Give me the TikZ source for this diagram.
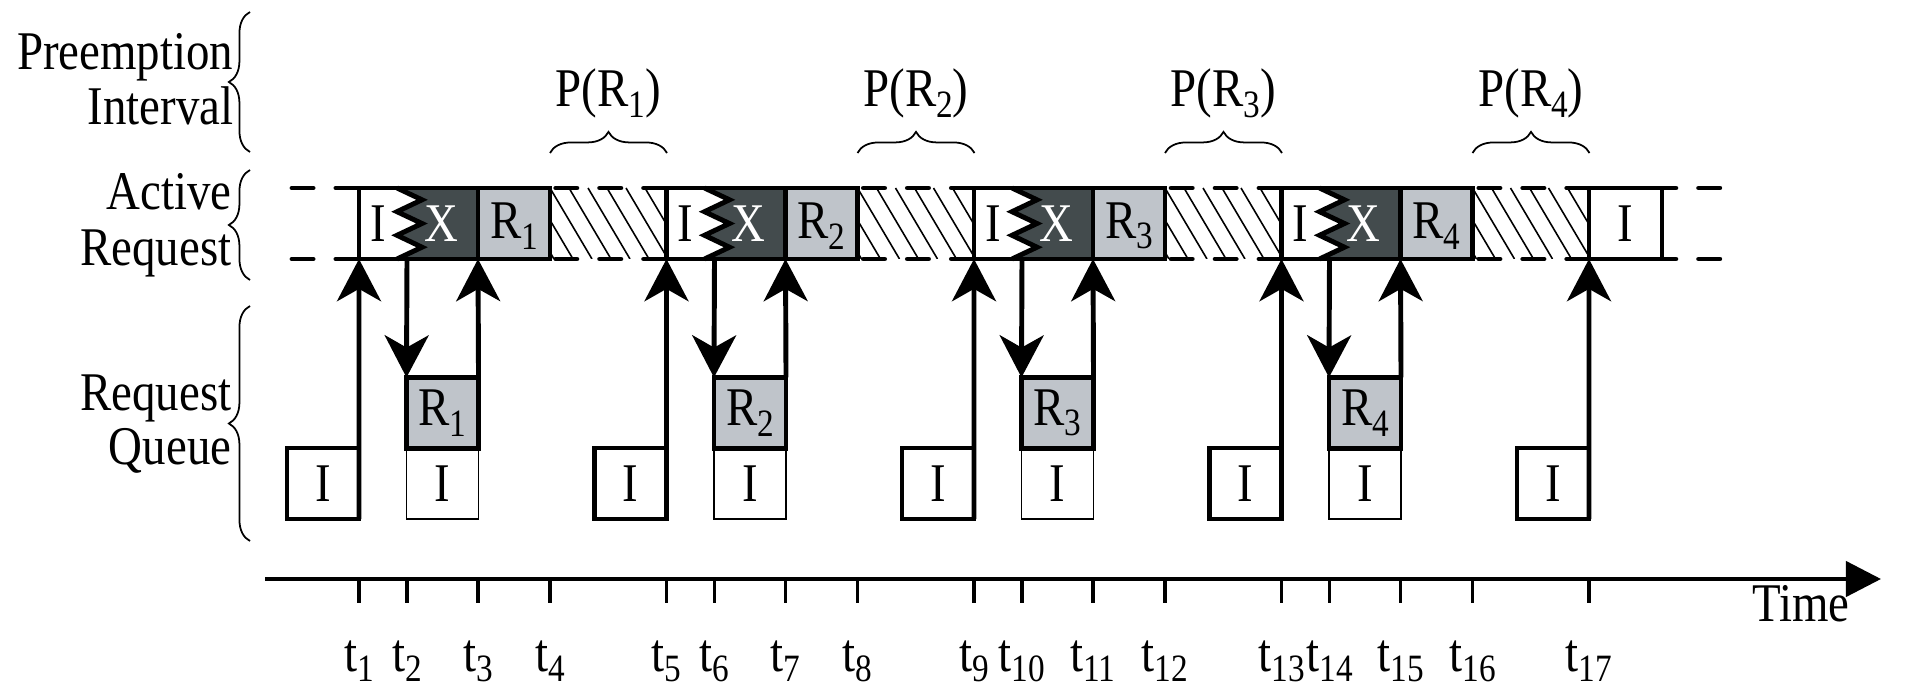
\documentclass[tikz,border=0pt]{standalone}
\usepackage{fontspec}
\setmainfont{Liberation Serif}[FakeStretch=0.86]
\usepackage{tikz}
\usetikzlibrary{arrows.meta, decorations.pathreplacing}

\definecolor{xdark}{HTML}{434B4D}
\definecolor{rgray}{HTML}{BFC4CA}

% lowered index, as in R1 and t1
\newcommand{\lo}[1]{\raisebox{-3pt}{\fontsize{11}{11}\selectfont #1}}

\tikzset{
	qbox/.style={rectangle, draw=black, line width=1.4pt, outer sep=0pt, inner sep=0pt, minimum width=0.72cm, minimum height=0.71cm},
	wbox/.style={qbox, line width=0.4pt},
	bold/.style={line width=1.4pt},
	dashln/.style={line width=1.4pt, line cap=round, dash pattern=on 6pt off 6.5pt},
	hatchln/.style={line width=0.45pt},
	brc/.style={decorate, decoration={brace, amplitude=6pt}, line width=0.5pt},
	arr/.style={line width=1.4pt, -{Stealth[length=12pt, width=12.5pt, inset=3.5pt]}}
}

\begin{document}
\begin{tikzpicture}[x=0.01cm, y=-0.01cm, inner sep=0pt, font=\fontsize{15.5}{18}\selectfont]
	\useasboundingbox (0,0) rectangle (1905,688);

	% row labels
	\node[anchor=base east] (pre) at (234,70) {Preemption};
	\node[anchor=base east] (int) at (234,125) {Interval};
	\node[anchor=base east] (act) at (232,210) {Active};
	\node[anchor=base east] (req) at (232,266) {Request};
	\node[anchor=base east] (rq) at (232,410) {Request};
	\node[anchor=base east] (que) at (232,465) {Queue};

	\draw[brc] (250,152) -- (250,12);
	\draw[brc] (250,280) -- (250,170);
	\draw[brc] (250,541) -- (250,306);

	% one period per request
	\foreach \k in {1,...,4}{
		\pgfmathsetmacro{\bx}{359+307.5*(\k-1)}

		% active request band
		\fill[xdark] (\bx+38,188) -- (\bx+63,199.8) -- (\bx+38,211.7) -- (\bx+63,223.5)
			-- (\bx+38,235.3) -- (\bx+63,247.2) -- (\bx+38,259) -- (\bx+119,259) -- (\bx+119,188) -- cycle;
		\fill[rgray] (\bx+119,188) rectangle (\bx+191,259);
		\begin{scope}
			\clip (\bx+191,188) rectangle (\bx+308,259);
			\foreach \h in {-3,...,6}
				\draw[hatchln] (\bx+191+\h*19,188) -- ++(42,71);
		\end{scope}
	}

	\draw[dashln] (292,188) -- (1731,188);
	\draw[dashln] (292,259) -- (1731,259);

	\foreach \k in {1,...,4}{
		\pgfmathsetmacro{\bx}{359+307.5*(\k-1)}

		\draw[bold] (\bx,188) rectangle (\bx+191,259);
		\draw[bold] (\bx+119,188) -- (\bx+119,259);
		\draw[bold, line join=miter] (\bx+38,188) -- (\bx+63,199.8) -- (\bx+38,211.7) -- (\bx+63,223.5)
			-- (\bx+38,235.3) -- (\bx+63,247.2) -- (\bx+38,259);
		\node (ai\k) at (\bx+19,224) {I};
		\node[text=white] (ax\k) at (\bx+82,224) {X};
		\node (ar\k) at (\bx+155,226) {R\lo{\k}};

		\coordinate (ua\k) at (\bx,259);
		\coordinate (da\k) at (\bx+48,259);
		\coordinate (ra\k) at (\bx+119,259);

		% request queue
		\node[qbox] (qi\k) at (\bx-36,483.5) {I};
		\node[wbox] (qw\k) at (\bx+83.5,483.5) {I};
		\node[qbox, fill=rgray] (qr\k) at (\bx+83.5,413) {R\lo{\k}};

		\draw[arr] (qi\k.south east) -- (ua\k);
		\draw[arr] (da\k) -- (qr\k.north west);
		\draw[arr] (qr\k.north east) -- (ra\k);

		% preemption interval
		\node[anchor=base] (p\k) at (\bx+249.5,107) {P(R\lo{\k})};
		\draw[brc] (\bx+191,153) -- (\bx+308,153);

		% time marks
		\foreach \o [count=\j] in {0,48,119,191}{
			\pgfmathtruncatemacro{\n}{4*(\k-1)+\j}
			\draw[line width=1.1pt] (\bx+\o,579) -- ++(0,24);
			\node[anchor=base] (t\n) at (\bx+\o,671) {t\lo{\n}};
		}
	}

	% last idle slot
	\draw[bold] (1589,188) rectangle (1662,259);
	\node (ai5) at (1625,224) {I};
	\coordinate (ua5) at (1589,259);
	\node[qbox] (qi5) at (1553,483.5) {I};
	\draw[arr] (qi5.south east) -- (ua5);

	% time axis
	\coordinate (ax0) at (265,579);
	\coordinate (ax1) at (1881,579);
	\draw[line width=1.2pt, -{Triangle[length=10pt, width=10pt]}] (ax0) -- (ax1);
	\draw[line width=1.1pt] (1589,579) -- ++(0,24);
	\node[anchor=base] (t17) at (1589,671) {t\lo{17}};
	\node[anchor=base] (time) at (1801,621) {Time};
\end{tikzpicture}
\end{document}
